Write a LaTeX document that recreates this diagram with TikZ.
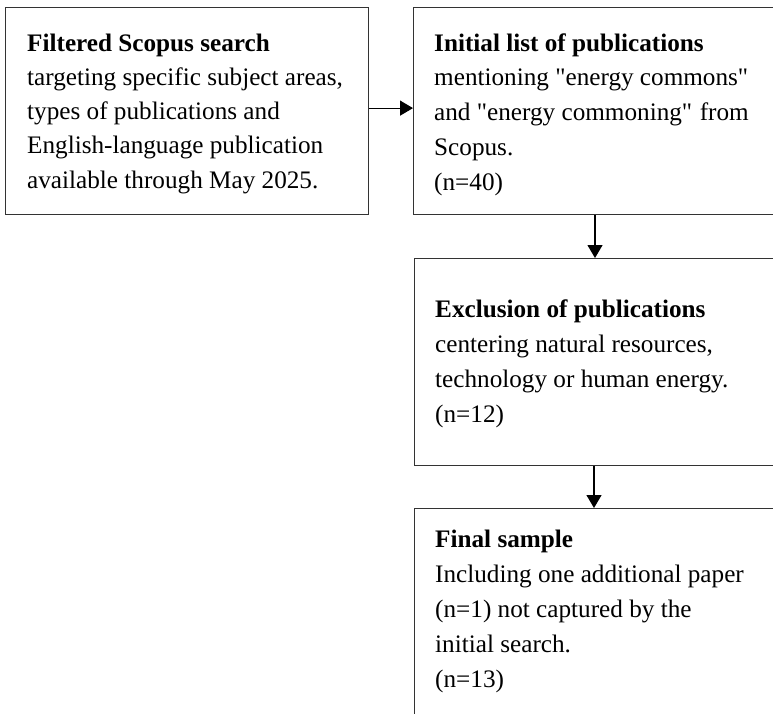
\documentclass[tikz,border=0pt]{standalone}
\usepackage{fontspec}
\setmainfont{Liberation Serif}[Ligatures=TeXOff]
\usetikzlibrary{arrows.meta}
\begin{document}
\begin{tikzpicture}[x=1pt,y=-1pt,
  box/.style={draw=black!80,line width=1.2pt,fill=white,rectangle,inner sep=0pt,anchor=north west},
  txt/.style={anchor=base west,inner sep=0pt,font=\fontsize{25.2}{30}\selectfont},
  head/.style={txt,font=\fontsize{25.2}{30}\selectfont\bfseries},
  arr/.style={draw=black,line width=1.2pt,-{Triangle[length=13pt,width=15pt]}}]
\useasboundingbox (0,0) rectangle (773,713);
\clip (0,0) rectangle (773,713);
\fill[white] (0,0) rectangle (773,713);
% boxes
\node[box,minimum width=363pt,minimum height=207pt] (b1) at (5,7) {};
\node[box,minimum width=400pt,minimum height=207pt] (b2) at (413,7) {};
\node[box,minimum width=400pt,minimum height=207pt] (b3) at (414,258) {};
\node[box,minimum width=400pt,minimum height=260pt] (b4) at (414,508) {};
% texts box 1
\node[head] (t1h) at (27,51) {Filtered Scopus search};
\foreach \t [count=\i] in {{targeting specific subject areas,},{types of publications and},{English-language publication},{available through May 2025.}}
  \node[txt] (t1l\i) at (27,{51+34.3*\i}) {\t};
% texts box 2
\node[head] (t2h) at (434,51) {Initial list of publications};
\foreach \t [count=\i] in {{mentioning "energy commons"},{and "energy commoning"\hspace{0.3em}from},{Scopus.},{(n=40)}}
  \node[txt] (t2l\i) at (434,{51+34.8*\i}) {\t};
% texts box 3
\node[head] (t3h) at (435,317) {Exclusion of publications};
\foreach \t [count=\i] in {{centering natural resources,},{technology or human energy.},{(n=12)}}
  \node[txt] (t3l\i) at (435,{317+35*\i}) {\t};
% texts box 4
\node[head] (t4h) at (435,547) {Final sample};
\foreach \t [count=\i] in {{Including one additional paper},{(n=1) not captured by the},{initial search.},{(n=13)}}
  \node[txt] (t4l\i) at (435,{547+35*\i}) {\t};
% arrows
\draw[arr] ([yshift=3pt]b1.east) -- ([yshift=3pt]b1.east -| b2.west);
\draw[arr] ([xshift=182pt]b2.south west) -- ([xshift=182pt]b2.south west |- b3.north);
\draw[arr] ([xshift=180pt]b3.south west) -- ([xshift=180pt]b3.south west |- b4.north);
\end{tikzpicture}
\end{document}
